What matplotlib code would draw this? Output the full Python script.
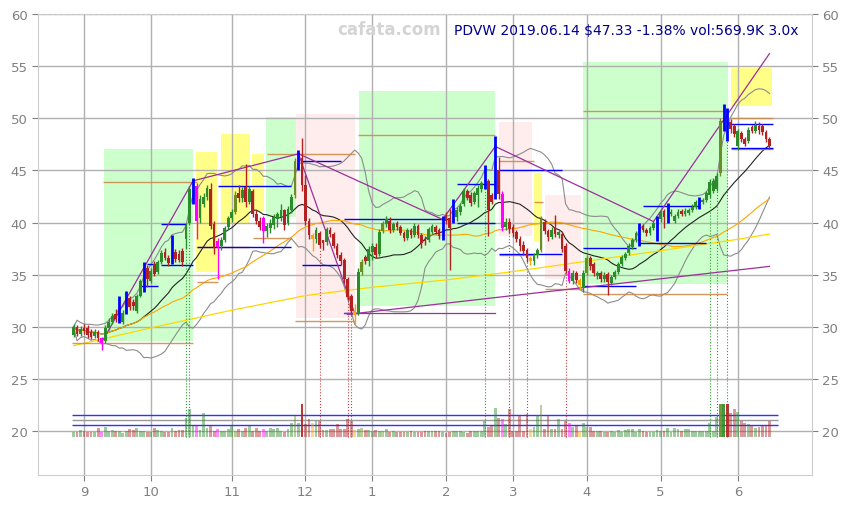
import numpy as np
import pandas as pd
import matplotlib
matplotlib.use("Agg")
import matplotlib.pyplot as plt
from matplotlib.patches import Rectangle

# daily bars, 2018-08-29 .. 2019-06-14 (trading-day index 0..198)
opens = [
    29.2, 30.0, 29.3, 29.9, 29.9, 29.5, 29.1, 29.5, 28.9, 28.6,
    29.9, 30.5, 31.2, 30.6, 30.5, 31.3, 32.8, 32.4, 31.5, 33.0,
    33.6, 35.6, 34.4, 36.0, 35.3, 36.2, 37.2, 36.6, 36.1, 37.2,
    37.0, 37.3, 38.4, 40.0, 42.0, 43.5, 40.4, 41.8, 42.5, 43.2,
    39.9, 38.2, 37.8, 38.3, 39.6, 40.4, 41.0, 42.8, 42.4, 43.4,
    42.0, 43.0, 40.8, 40.2, 40.4, 39.2, 39.5, 39.8, 40.3, 40.5,
    41.2, 40.0, 41.2, 42.6, 45.4, 46.2, 43.6, 40.2, 38.8, 38.4,
    39.0, 38.3, 38.1, 39.3, 38.9, 37.8, 36.9, 36.4, 34.6, 33.0,
    31.5, 31.3, 35.3, 36.7, 36.3, 37.2, 37.7, 37.0, 39.2, 39.9,
    40.2, 39.3, 40.0, 39.6, 39.0, 38.5, 39.3, 38.8, 39.7, 38.8,
    38.4, 38.3, 39.1, 39.6, 39.3, 38.7, 40.6, 40.4, 40.3, 40.5,
    41.0, 41.8, 43.0, 42.6, 42.0, 42.6, 43.2, 43.4, 44.0, 42.6,
    42.5, 45.0, 42.7, 39.6, 40.1, 39.6, 39.1, 38.4, 37.9, 37.4,
    36.6, 36.3, 36.9, 37.4, 40.1, 39.2, 38.6, 39.5, 38.8, 38.9,
    37.8, 35.4, 34.4, 35.2, 34.5, 33.8, 35.2, 36.6, 36.0, 34.9,
    35.2, 34.6, 35.1, 34.2, 34.8, 35.3, 36.0, 36.6, 37.1, 37.7,
    38.3, 38.0, 39.7, 39.3, 39.0, 39.5, 38.5, 40.3, 41.1, 40.2,
    40.8, 40.2, 40.6, 41.1, 40.8, 40.9, 41.2, 41.5, 41.5, 42.0,
    42.2, 42.6, 43.0, 43.2, 44.8, 49.2, 50.7, 49.6, 49.3, 47.3,
    48.6, 48.0, 47.8, 49.2, 48.8, 49.3, 49.3, 48.7, 48.0,
]
highs = [
    30.3, 30.2, 30.1, 30.3, 30.2, 29.8, 29.8, 29.7, 29.0, 30.2,
    30.9, 31.3, 31.7, 33.0, 31.6, 33.4, 33.0, 32.7, 33.2, 34.6,
    36.2, 35.9, 35.6, 36.3, 36.4, 37.4, 37.6, 36.9, 38.8, 37.5,
    37.4, 37.6, 40.0, 43.5, 44.3, 43.8, 42.6, 42.8, 43.6, 43.8,
    40.2, 38.5, 38.6, 39.7, 40.6, 41.3, 43.0, 43.6, 43.4, 45.6,
    43.5, 43.2, 41.2, 40.5, 40.6, 40.0, 40.3, 40.8, 41.0, 41.8,
    41.3, 41.6, 42.7, 46.2, 47.0, 48.1, 44.6, 40.4, 39.0, 39.6,
    39.2, 38.3, 39.6, 39.6, 39.1, 38.0, 37.2, 36.6, 34.8, 33.2,
    32.2, 35.6, 36.5, 36.9, 37.8, 38.0, 38.0, 39.4, 40.2, 40.6,
    40.5, 40.1, 40.2, 39.8, 39.2, 39.5, 39.5, 40.0, 39.9, 39.0,
    38.7, 39.6, 39.9, 39.8, 39.5, 40.6, 41.0, 41.3, 42.3, 41.5,
    41.9, 43.3, 43.2, 42.9, 43.0, 43.6, 44.0, 45.5, 44.2, 42.8,
    48.3, 46.3, 43.0, 40.4, 40.4, 39.9, 39.3, 38.7, 38.2, 37.6,
    36.8, 37.1, 37.6, 40.6, 40.3, 39.4, 39.6, 40.7, 39.4, 39.1,
    38.0, 35.6, 35.5, 35.4, 34.7, 35.5, 36.9, 36.8, 36.2, 35.4,
    35.4, 35.3, 35.3, 35.0, 35.5, 36.2, 36.9, 37.2, 38.0, 38.5,
    39.2, 40.0, 39.9, 39.5, 39.7, 40.2, 40.6, 41.2, 41.3, 41.9,
    41.3, 40.8, 41.3, 41.3, 41.4, 41.4, 41.8, 42.2, 42.5, 42.4,
    43.0, 44.2, 44.3, 44.8, 50.0, 51.4, 51.0, 49.9, 49.5, 49.0,
    48.8, 48.2, 49.2, 49.4, 49.7, 49.6, 49.5, 48.9, 48.2,
]
lows = [
    29.0, 29.1, 29.1, 29.3, 28.9, 28.8, 28.9, 28.6, 27.8, 28.5,
    29.7, 30.3, 30.5, 30.4, 30.3, 31.2, 31.6, 31.6, 31.3, 32.9,
    33.3, 33.8, 34.2, 34.9, 35.1, 36.0, 36.4, 35.8, 36.0, 36.2,
    36.2, 35.8, 37.5, 39.8, 41.8, 38.4, 40.0, 41.5, 42.2, 39.4,
    37.0, 34.6, 37.4, 38.1, 39.4, 40.1, 40.8, 42.0, 42.0, 41.5,
    41.8, 40.5, 39.9, 39.3, 38.0, 38.6, 39.0, 39.4, 39.6, 40.2,
    39.3, 39.8, 40.9, 42.4, 45.0, 43.0, 39.8, 38.4, 37.3, 38.0,
    37.6, 37.4, 37.9, 38.6, 37.6, 36.6, 35.9, 34.2, 32.6, 31.1,
    30.3, 31.1, 35.0, 36.0, 35.8, 36.4, 36.6, 36.8, 39.0, 39.6,
    39.0, 39.1, 39.3, 38.8, 38.2, 38.3, 38.5, 38.6, 38.5, 37.6,
    37.9, 38.1, 38.9, 38.9, 38.4, 38.3, 39.9, 35.5, 40.0, 40.2,
    40.7, 41.6, 42.2, 41.6, 41.8, 41.5, 42.9, 43.2, 38.7, 41.8,
    42.3, 42.3, 39.2, 39.3, 39.0, 38.6, 38.1, 37.3, 36.9, 36.2,
    35.9, 35.9, 36.6, 37.2, 38.9, 38.2, 38.4, 38.6, 38.5, 37.2,
    35.2, 34.2, 34.1, 34.2, 33.6, 33.3, 35.0, 35.5, 34.9, 34.6,
    34.3, 34.3, 33.1, 34.0, 34.6, 35.1, 35.8, 36.4, 36.9, 37.5,
    38.1, 37.8, 39.1, 38.7, 38.8, 39.3, 38.2, 40.1, 39.5, 40.0,
    40.6, 40.0, 40.4, 40.6, 40.6, 40.7, 41.0, 41.3, 41.3, 41.8,
    42.0, 42.4, 42.8, 43.0, 44.5, 48.8, 47.8, 48.6, 48.2, 47.0,
    47.7, 47.3, 47.6, 48.6, 48.6, 48.5, 48.4, 47.7, 47.1,
]
closes = [
    30.0, 29.3, 29.8, 29.6, 29.2, 29.0, 29.5, 28.9, 28.5, 29.9,
    30.5, 31.0, 30.8, 32.0, 31.3, 32.8, 31.9, 32.0, 33.0, 34.4,
    35.8, 34.6, 35.4, 35.1, 36.2, 37.1, 36.6, 36.1, 38.5, 36.5,
    36.4, 36.2, 39.8, 43.2, 44.0, 40.2, 42.3, 42.5, 43.3, 39.7,
    37.6, 37.7, 38.3, 39.5, 40.4, 41.0, 42.6, 42.4, 43.1, 42.0,
    43.2, 40.8, 40.2, 39.6, 39.2, 39.7, 40.0, 40.5, 40.8, 41.2,
    39.8, 41.3, 42.5, 45.9, 46.5, 43.6, 40.2, 38.8, 38.4, 39.3,
    37.9, 38.0, 39.4, 38.9, 37.8, 36.9, 36.3, 34.6, 32.9, 31.5,
    31.1, 35.3, 36.2, 36.3, 37.5, 37.8, 36.9, 39.1, 40.0, 40.3,
    39.3, 39.9, 39.6, 39.0, 38.5, 39.3, 38.8, 39.7, 38.8, 38.0,
    38.2, 39.4, 39.7, 39.1, 38.7, 40.3, 40.2, 39.5, 42.0, 41.2,
    41.6, 43.0, 42.4, 41.9, 42.8, 43.3, 43.8, 45.2, 41.2, 42.0,
    48.0, 42.7, 39.5, 40.1, 39.4, 39.0, 38.4, 37.8, 37.3, 36.6,
    36.3, 36.8, 37.4, 40.3, 39.2, 38.6, 39.3, 38.9, 39.1, 37.5,
    35.4, 34.4, 35.2, 34.5, 34.0, 35.2, 36.6, 35.8, 35.2, 35.2,
    34.6, 35.0, 34.3, 34.8, 35.3, 36.0, 36.7, 37.0, 37.8, 38.3,
    39.0, 39.7, 39.3, 39.0, 39.5, 40.0, 40.3, 41.0, 40.5, 41.6,
    41.0, 40.6, 41.0, 40.8, 41.1, 41.2, 41.5, 42.0, 42.2, 42.2,
    42.8, 43.9, 44.0, 44.5, 49.7, 50.8, 48.6, 49.0, 48.5, 48.8,
    48.0, 47.5, 48.9, 48.8, 49.4, 48.9, 48.7, 48.0, 47.3,
]
volumes_k = [
    180, 180, 239, 215, 180, 180, 180, 310, 180, 345,
    227, 239, 215, 227, 156, 215, 275, 239, 310, 227,
    227, 180, 180, 310, 251, 227, 180, 180, 310, 227,
    239, 239, 665, 984, 393, 393, 239, 842, 310, 416,
    227, 275, 227, 227, 275, 393, 227, 275, 227, 310,
    393, 227, 334, 227, 275, 227, 310, 275, 334, 227,
    180, 275, 511, 748, 511, 1162, 452, 629, 511, 570,
    570, 239, 239, 275, 275, 452, 275, 275, 629, 570,
    239, 275, 334, 239, 239, 215, 239, 215, 227, 275,
    180, 227, 180, 180, 180, 180, 215, 180, 180, 180,
    227, 227, 227, 215, 215, 180, 156, 180, 227, 227,
    227, 180, 156, 227, 227, 227, 227, 570, 357, 393,
    1043, 688, 629, 452, 984, 227, 227, 748, 227, 807,
    275, 345, 771, 1126, 298, 748, 275, 275, 653, 275,
    570, 511, 357, 381, 227, 511, 357, 345, 227, 227,
    227, 180, 180, 227, 180, 263, 180, 263, 298, 298,
    180, 298, 227, 180, 180, 180, 251, 227, 227, 334,
    180, 334, 275, 227, 298, 275, 227, 227, 227, 227,
    227, 511, 227, 724, 1162, 1162, 1162, 866, 1008, 889,
    570, 511, 452, 428, 334, 345, 393, 440, 570,
]

# signal bars
blue_bars = [13, 15, 20, 28, 34, 64, 105, 108, 117, 120, 161, 166, 169, 178, 185, 186]
pink_bars = [8, 35, 41, 54, 122, 141]
orange_bars = [68, 80, 130, 144]
olive_bars = [46, 63, 82, 88, 133, 146, 184]
hot_volume = [65, 184, 185, 186]
green_marks = [32, 33, 117, 181, 183, 186]
red_marks = [70, 78, 79, 124, 129, 140]

# month starts on the trading-day axis
month_idx = [3, 22, 45, 66, 85, 106, 125, 146, 167, 189]
month_labels = ['9', '10', '11', '12', '1', '2', '3', '4', '5', '6']

# long moving average
ma_long_idx = [0, 22, 45, 66, 85, 106, 125, 146, 167, 189, 198]
ma_long_val = [28.2, 29.9, 31.6, 33.0, 33.8, 34.5, 35.3, 36.3, 37.3, 38.4, 38.9]

# zones: (start, end, low, high)
green_zones = [(8.7, 34.0, 28.6, 47.1), (54.8, 63.3, 40.5, 50.1),
               (81.1, 120.0, 32.0, 52.6), (144.9, 186.2, 34.1, 55.4)]
yellow_zones = [(34.8, 40.8, 35.3, 46.8), (41.9, 50.2, 39.9, 48.5), (50.8, 54.2, 41.1, 46.6),
                (130.9, 133.3, 38.2, 44.8), (187.0, 198.8, 51.2, 54.8)]
pink_zones = [(63.3, 80.0, 30.9, 50.4), (121.0, 130.4, 38.7, 49.6), (134.1, 144.3, 34.6, 42.6)]

# levels: (start, end, price)
blue_levels = [(19, 24, 33.9), (21, 24, 36.0), (25, 32, 39.9), (25, 34, 35.9),
               (41, 62, 43.5), (35, 62, 37.7), (65, 76, 45.9), (65, 76, 35.9),
               (77, 107, 40.3), (77, 81, 31.3), (109, 120, 43.7), (109, 120, 40.0),
               (121, 139, 45.0), (121, 139, 37.0), (145, 160, 33.9), (145, 160, 37.6),
               (161, 180, 38.0), (162, 178, 41.6), (186, 199, 49.5), (187, 199, 47.2)]
tan_levels = [(-0.5, 34, 28.5), (8.5, 35, 43.9), (35, 41, 34.3), (35, 50, 37.7),
              (51, 62, 38.5), (55, 80, 46.6), (63, 80, 30.6), (81, 120, 48.4),
              (121, 131, 45.9), (131, 133.5, 42.0), (134, 145, 40.0), (121, 131, 36.9),
              (134, 145, 33.6), (145, 186, 33.2), (145, 186, 50.7), (187, 199, 50.0),
              (187, 199, 47.1)]
# trend lines: (i0, p0, i1, p1)
trends = [(8, 28.5, 34, 44.0), (34, 44.0, 64, 46.6), (64, 46.6, 80, 31.3),
          (64, 46.6, 105, 40.3), (105, 40.3, 120, 47.3), (120, 47.3, 165, 40.1),
          (165, 40.1, 198, 56.2), (78, 31.2, 198, 35.8), (77, 31.3, 120, 31.3)]
vol_levels_k = [415, 590, 775]

VOL_BASE = 19.45
VOL_SCALE = 370.0  # K per price unit

o = np.array(opens)
h = np.array(highs)
l = np.array(lows)
c = np.array(closes)
v = np.array(volumes_k)
idx = np.arange(len(c))

s = pd.Series(c)
ma20 = s.rolling(20, min_periods=1).mean()
sd20 = s.rolling(20, min_periods=2).std().fillna(0)
ma50 = s.rolling(50, min_periods=1).mean()

fig = plt.figure(figsize=(8.49, 5.10), dpi=100)
ax = fig.add_axes([38 / 849, 1 - 476 / 510, 774 / 849, 461 / 510])
ax.set_xlim(-10.1, 210.1)
ax.set_ylim(15.8, 60)

for zones, col in [(green_zones, '#ccffcc'), (yellow_zones, '#ffff88'), (pink_zones, '#ffecec')]:
    for x0, x1, y0, y1 in zones:
        ax.add_patch(Rectangle((x0, y0), x1 - x0, y1 - y0, facecolor=col,
                               edgecolor='none', zorder=0.2))

# indicators
ax.plot(idx, ma20 + 2 * sd20, color='#8c8c8c', lw=0.8, zorder=2)
ax.plot(idx, ma20 - 2 * sd20, color='#8c8c8c', lw=0.8, zorder=2)
ax.plot(idx, ma20, color='#222222', lw=0.8, zorder=2)
ax.plot(idx, ma50, color='#ffa500', lw=0.8, zorder=2)
ax.plot(ma_long_idx, ma_long_val, color='#ffd700', lw=0.9, zorder=2)

for x0, x1, p in tan_levels:
    ax.hlines(p, x0, x1, color='#cd853f', lw=1, alpha=0.85, zorder=2.3)
for x0, x1, p in blue_levels:
    ax.hlines(p, x0, x1, color='#0000ff', lw=1, zorder=2.4)
for x0, p0, x1, p1 in trends:
    ax.plot([x0, x1], [p0, p1], color='#9b309b', lw=0.9, zorder=2.5)

# signal markers down to volume
for i in green_marks:
    ax.vlines(i, VOL_BASE, l[i], color='#2ca02c', lw=0.8, linestyles=':', zorder=2.2)
for i in red_marks:
    ax.vlines(i, VOL_BASE, l[i], color='#c84040', lw=0.8, linestyles=':', zorder=2.2)

# candles
body_col = []
for i in idx:
    col = '#2a8c2a' if c[i] >= o[i] else '#b22222'
    if i in pink_bars:
        col = '#ff00ff'
    elif i in orange_bars:
        col = '#ffa500'
    elif i in olive_bars:
        col = '#6b8e23'
    body_col.append(col)
    if i in blue_bars:
        ax.vlines(i, l[i], h[i], color='#0000ff', lw=2, zorder=3)
        continue
    ax.vlines(i, l[i], h[i], color=col, lw=1, zorder=3)
    lo_b = min(o[i], c[i])
    hgt = max(abs(c[i] - o[i]), 0.1)
    ax.bar(i, hgt, bottom=lo_b, width=0.78, color=col, zorder=3.1)

# volume
for i in idx:
    col = body_col[i]
    if i in blue_bars:
        col = '#2a8c2a' if c[i] >= o[i] else '#b22222'
    a = 0.9 if i in hot_volume else 0.45
    ax.bar(i, v[i] / VOL_SCALE, bottom=VOL_BASE, width=0.8, color=col, alpha=a,
           lw=0, zorder=3)
for k, vk in enumerate(vol_levels_k):
    ax.hlines(VOL_BASE + vk / VOL_SCALE, -0.5, 200.5,
              color='#999999' if k == 1 else '#3030ff', lw=1, zorder=2.6)

ax.set_xticks(month_idx)
ax.set_xticklabels(month_labels)
ax.set_yticks(range(20, 61, 5))
ax.tick_params(labelright=True, right=True, colors='#808080', labelsize=9.5, length=4)
ax.grid(True, color='#b0b0b0', lw=1)
ax.set_axisbelow(True)
for side in ['left', 'right', 'bottom', 'top']:
    ax.spines[side].set_color('#cccccc')
ax.spines['top'].set_linestyle('--')

ax.text(0.4535, 0.967, 'cafata.com', transform=ax.transAxes, ha='center', va='center',
        fontsize=12, fontweight='bold', color='#d4d4d4', zorder=5)
ax.text(0.5375, 0.965, 'PDVW 2019.06.14 $47.33 -1.38% vol:569.9K 3.0x', transform=ax.transAxes,
        ha='left', va='center', fontsize=10, color='#00008b', zorder=5)

fig.savefig('out.png', dpi=100)
